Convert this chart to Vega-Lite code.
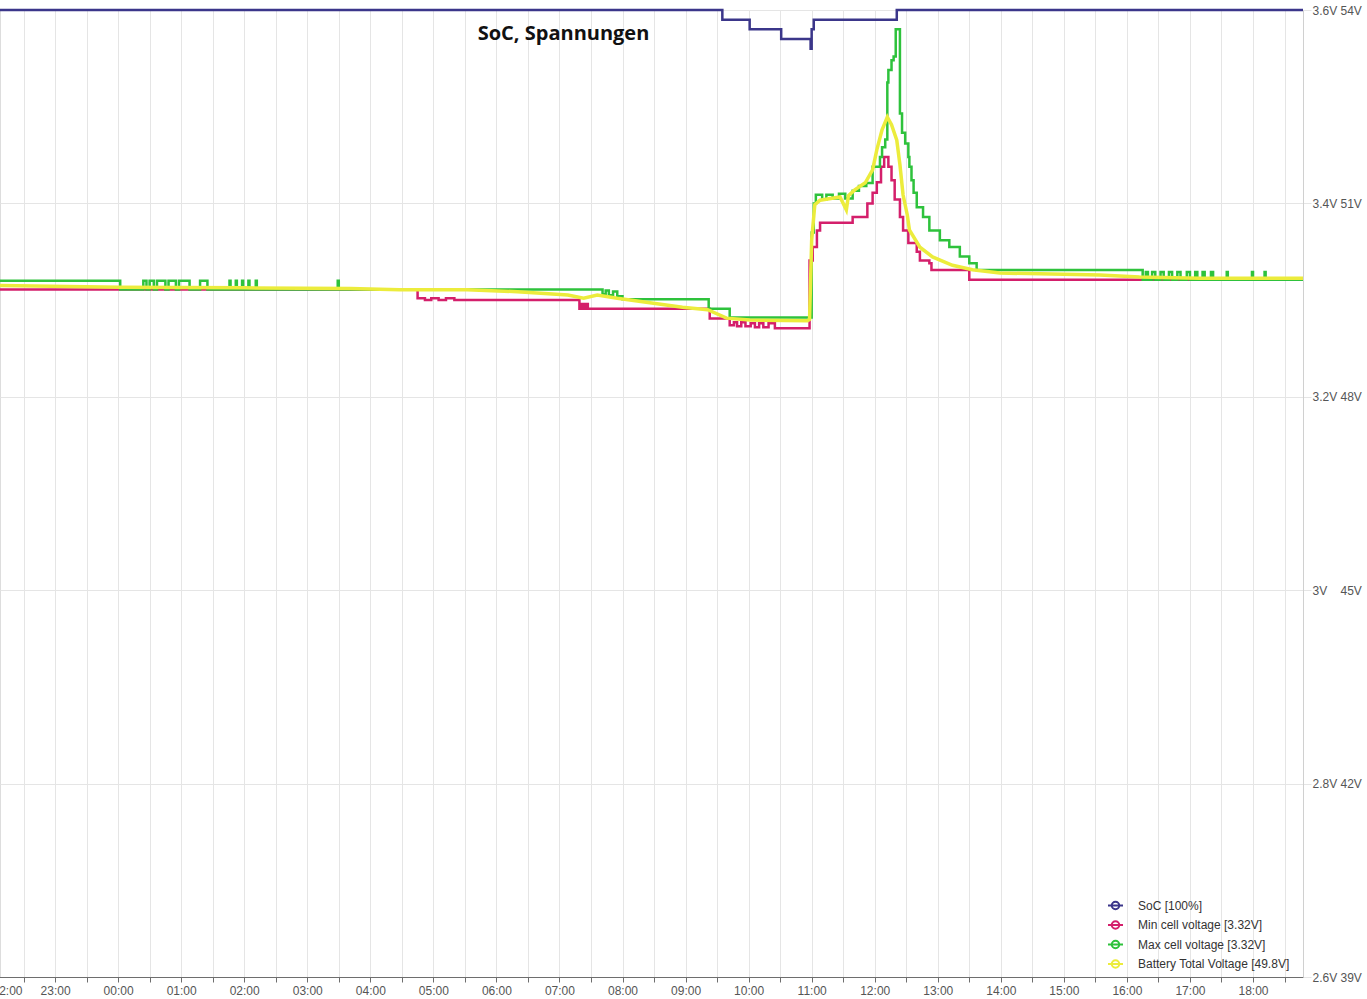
{
  "$schema": "https://vega.github.io/schema/vega-lite/v6.json",
  "width": 1303,
  "height": 967,
  "autosize": {"type": "none"},
  "padding": {"left": 0, "top": 10, "right": 64, "bottom": 22},
  "title": {"text": "SoC, Spannungen", "font": "Open Sans", "fontSize": 20, "fontWeight": "bold", "color": "#111111", "anchor": "middle", "dx": -88, "offset": 0, "baseline": "alphabetic", "dy": 56},
  "datasets": {
    "soc": [
      {"t": "2024-05-10T22:00", "s": "SoC [100%]", "v": 100},
      {"t": "2024-05-11T09:35", "s": "SoC [100%]", "v": 99},
      {"t": "2024-05-11T10:01", "s": "SoC [100%]", "v": 98},
      {"t": "2024-05-11T10:31", "s": "SoC [100%]", "v": 97},
      {"t": "2024-05-11T10:59", "s": "SoC [100%]", "v": 96},
      {"t": "2024-05-11T11:00", "s": "SoC [100%]", "v": 98},
      {"t": "2024-05-11T11:02", "s": "SoC [100%]", "v": 99},
      {"t": "2024-05-11T12:21", "s": "SoC [100%]", "v": 100},
      {"t": "2024-05-11T18:47:34", "s": "SoC [100%]", "v": 100}
    ],
    "cells": [
      {"t": "2024-05-10T22:00", "s": "Min cell voltage [3.32V]", "v": 3.311},
      {"t": "2024-05-11T04:45", "s": "Min cell voltage [3.32V]", "v": 3.302},
      {"t": "2024-05-11T04:52", "s": "Min cell voltage [3.32V]", "v": 3.300},
      {"t": "2024-05-11T04:58", "s": "Min cell voltage [3.32V]", "v": 3.302},
      {"t": "2024-05-11T05:05", "s": "Min cell voltage [3.32V]", "v": 3.300},
      {"t": "2024-05-11T05:12", "s": "Min cell voltage [3.32V]", "v": 3.302},
      {"t": "2024-05-11T05:20", "s": "Min cell voltage [3.32V]", "v": 3.300},
      {"t": "2024-05-11T07:19", "s": "Min cell voltage [3.32V]", "v": 3.291},
      {"t": "2024-05-11T07:21", "s": "Min cell voltage [3.32V]", "v": 3.296},
      {"t": "2024-05-11T07:23", "s": "Min cell voltage [3.32V]", "v": 3.291},
      {"t": "2024-05-11T07:25", "s": "Min cell voltage [3.32V]", "v": 3.296},
      {"t": "2024-05-11T07:27", "s": "Min cell voltage [3.32V]", "v": 3.291},
      {"t": "2024-05-11T09:23", "s": "Min cell voltage [3.32V]", "v": 3.281},
      {"t": "2024-05-11T09:42", "s": "Min cell voltage [3.32V]", "v": 3.274},
      {"t": "2024-05-11T09:46", "s": "Min cell voltage [3.32V]", "v": 3.277},
      {"t": "2024-05-11T09:49", "s": "Min cell voltage [3.32V]", "v": 3.273},
      {"t": "2024-05-11T09:53", "s": "Min cell voltage [3.32V]", "v": 3.277},
      {"t": "2024-05-11T09:57", "s": "Min cell voltage [3.32V]", "v": 3.273},
      {"t": "2024-05-11T10:02", "s": "Min cell voltage [3.32V]", "v": 3.276},
      {"t": "2024-05-11T10:06", "s": "Min cell voltage [3.32V]", "v": 3.272},
      {"t": "2024-05-11T10:10", "s": "Min cell voltage [3.32V]", "v": 3.276},
      {"t": "2024-05-11T10:14", "s": "Min cell voltage [3.32V]", "v": 3.272},
      {"t": "2024-05-11T10:19", "s": "Min cell voltage [3.32V]", "v": 3.276},
      {"t": "2024-05-11T10:25", "s": "Min cell voltage [3.32V]", "v": 3.271},
      {"t": "2024-05-11T10:58", "s": "Min cell voltage [3.32V]", "v": 3.341},
      {"t": "2024-05-11T11:01", "s": "Min cell voltage [3.32V]", "v": 3.355},
      {"t": "2024-05-11T11:05", "s": "Min cell voltage [3.32V]", "v": 3.372},
      {"t": "2024-05-11T11:08", "s": "Min cell voltage [3.32V]", "v": 3.380},
      {"t": "2024-05-11T11:39", "s": "Min cell voltage [3.32V]", "v": 3.386},
      {"t": "2024-05-11T11:53", "s": "Min cell voltage [3.32V]", "v": 3.400},
      {"t": "2024-05-11T11:58", "s": "Min cell voltage [3.32V]", "v": 3.411},
      {"t": "2024-05-11T12:02", "s": "Min cell voltage [3.32V]", "v": 3.422},
      {"t": "2024-05-11T12:06", "s": "Min cell voltage [3.32V]", "v": 3.438},
      {"t": "2024-05-11T12:09", "s": "Min cell voltage [3.32V]", "v": 3.448},
      {"t": "2024-05-11T12:13", "s": "Min cell voltage [3.32V]", "v": 3.438},
      {"t": "2024-05-11T12:16", "s": "Min cell voltage [3.32V]", "v": 3.424},
      {"t": "2024-05-11T12:19", "s": "Min cell voltage [3.32V]", "v": 3.404},
      {"t": "2024-05-11T12:24", "s": "Min cell voltage [3.32V]", "v": 3.386},
      {"t": "2024-05-11T12:27", "s": "Min cell voltage [3.32V]", "v": 3.372},
      {"t": "2024-05-11T12:32", "s": "Min cell voltage [3.32V]", "v": 3.359},
      {"t": "2024-05-11T12:40", "s": "Min cell voltage [3.32V]", "v": 3.350},
      {"t": "2024-05-11T12:43", "s": "Min cell voltage [3.32V]", "v": 3.341},
      {"t": "2024-05-11T12:52", "s": "Min cell voltage [3.32V]", "v": 3.338},
      {"t": "2024-05-11T12:54", "s": "Min cell voltage [3.32V]", "v": 3.331},
      {"t": "2024-05-11T13:30", "s": "Min cell voltage [3.32V]", "v": 3.321},
      {"t": "2024-05-11T18:47:34", "s": "Min cell voltage [3.32V]", "v": 3.321},
      {"t": "2024-05-10T22:00", "s": "Max cell voltage [3.32V]", "v": 3.320},
      {"t": "2024-05-11T00:02", "s": "Max cell voltage [3.32V]", "v": 3.311},
      {"t": "2024-05-11T00:24", "s": "Max cell voltage [3.32V]", "v": 3.320},
      {"t": "2024-05-11T00:27", "s": "Max cell voltage [3.32V]", "v": 3.311},
      {"t": "2024-05-11T00:30", "s": "Max cell voltage [3.32V]", "v": 3.320},
      {"t": "2024-05-11T00:34", "s": "Max cell voltage [3.32V]", "v": 3.311},
      {"t": "2024-05-11T00:37", "s": "Max cell voltage [3.32V]", "v": 3.320},
      {"t": "2024-05-11T00:45", "s": "Max cell voltage [3.32V]", "v": 3.311},
      {"t": "2024-05-11T00:48", "s": "Max cell voltage [3.32V]", "v": 3.320},
      {"t": "2024-05-11T00:55", "s": "Max cell voltage [3.32V]", "v": 3.311},
      {"t": "2024-05-11T00:58", "s": "Max cell voltage [3.32V]", "v": 3.320},
      {"t": "2024-05-11T01:08", "s": "Max cell voltage [3.32V]", "v": 3.311},
      {"t": "2024-05-11T01:18", "s": "Max cell voltage [3.32V]", "v": 3.320},
      {"t": "2024-05-11T01:25", "s": "Max cell voltage [3.32V]", "v": 3.311},
      {"t": "2024-05-11T01:46", "s": "Max cell voltage [3.32V]", "v": 3.320},
      {"t": "2024-05-11T01:47", "s": "Max cell voltage [3.32V]", "v": 3.311},
      {"t": "2024-05-11T01:52", "s": "Max cell voltage [3.32V]", "v": 3.320},
      {"t": "2024-05-11T01:53", "s": "Max cell voltage [3.32V]", "v": 3.311},
      {"t": "2024-05-11T01:58", "s": "Max cell voltage [3.32V]", "v": 3.320},
      {"t": "2024-05-11T01:59", "s": "Max cell voltage [3.32V]", "v": 3.311},
      {"t": "2024-05-11T02:04", "s": "Max cell voltage [3.32V]", "v": 3.320},
      {"t": "2024-05-11T02:05", "s": "Max cell voltage [3.32V]", "v": 3.311},
      {"t": "2024-05-11T02:11", "s": "Max cell voltage [3.32V]", "v": 3.320},
      {"t": "2024-05-11T02:12", "s": "Max cell voltage [3.32V]", "v": 3.311},
      {"t": "2024-05-11T03:29", "s": "Max cell voltage [3.32V]", "v": 3.320},
      {"t": "2024-05-11T03:30", "s": "Max cell voltage [3.32V]", "v": 3.311},
      {"t": "2024-05-11T07:41", "s": "Max cell voltage [3.32V]", "v": 3.306},
      {"t": "2024-05-11T07:44", "s": "Max cell voltage [3.32V]", "v": 3.310},
      {"t": "2024-05-11T07:47", "s": "Max cell voltage [3.32V]", "v": 3.305},
      {"t": "2024-05-11T07:51", "s": "Max cell voltage [3.32V]", "v": 3.309},
      {"t": "2024-05-11T07:55", "s": "Max cell voltage [3.32V]", "v": 3.304},
      {"t": "2024-05-11T08:00", "s": "Max cell voltage [3.32V]", "v": 3.301},
      {"t": "2024-05-11T09:22", "s": "Max cell voltage [3.32V]", "v": 3.291},
      {"t": "2024-05-11T09:42", "s": "Max cell voltage [3.32V]", "v": 3.282},
      {"t": "2024-05-11T10:58", "s": "Max cell voltage [3.32V]", "v": 3.282},
      {"t": "2024-05-11T11:00", "s": "Max cell voltage [3.32V]", "v": 3.370},
      {"t": "2024-05-11T11:02", "s": "Max cell voltage [3.32V]", "v": 3.400},
      {"t": "2024-05-11T11:04", "s": "Max cell voltage [3.32V]", "v": 3.409},
      {"t": "2024-05-11T11:10", "s": "Max cell voltage [3.32V]", "v": 3.404},
      {"t": "2024-05-11T11:14", "s": "Max cell voltage [3.32V]", "v": 3.409},
      {"t": "2024-05-11T11:20", "s": "Max cell voltage [3.32V]", "v": 3.405},
      {"t": "2024-05-11T11:26", "s": "Max cell voltage [3.32V]", "v": 3.410},
      {"t": "2024-05-11T11:32", "s": "Max cell voltage [3.32V]", "v": 3.405},
      {"t": "2024-05-11T11:39", "s": "Max cell voltage [3.32V]", "v": 3.413},
      {"t": "2024-05-11T11:45", "s": "Max cell voltage [3.32V]", "v": 3.418},
      {"t": "2024-05-11T11:52", "s": "Max cell voltage [3.32V]", "v": 3.421},
      {"t": "2024-05-11T11:58", "s": "Max cell voltage [3.32V]", "v": 3.438},
      {"t": "2024-05-11T12:05", "s": "Max cell voltage [3.32V]", "v": 3.448},
      {"t": "2024-05-11T12:07", "s": "Max cell voltage [3.32V]", "v": 3.458},
      {"t": "2024-05-11T12:10", "s": "Max cell voltage [3.32V]", "v": 3.466},
      {"t": "2024-05-11T12:12", "s": "Max cell voltage [3.32V]", "v": 3.525},
      {"t": "2024-05-11T12:13", "s": "Max cell voltage [3.32V]", "v": 3.538},
      {"t": "2024-05-11T12:16", "s": "Max cell voltage [3.32V]", "v": 3.548},
      {"t": "2024-05-11T12:18", "s": "Max cell voltage [3.32V]", "v": 3.552},
      {"t": "2024-05-11T12:20", "s": "Max cell voltage [3.32V]", "v": 3.580},
      {"t": "2024-05-11T12:24", "s": "Max cell voltage [3.32V]", "v": 3.493},
      {"t": "2024-05-11T12:26", "s": "Max cell voltage [3.32V]", "v": 3.473},
      {"t": "2024-05-11T12:29", "s": "Max cell voltage [3.32V]", "v": 3.462},
      {"t": "2024-05-11T12:32", "s": "Max cell voltage [3.32V]", "v": 3.448},
      {"t": "2024-05-11T12:33", "s": "Max cell voltage [3.32V]", "v": 3.438},
      {"t": "2024-05-11T12:35", "s": "Max cell voltage [3.32V]", "v": 3.424},
      {"t": "2024-05-11T12:37", "s": "Max cell voltage [3.32V]", "v": 3.411},
      {"t": "2024-05-11T12:40", "s": "Max cell voltage [3.32V]", "v": 3.396},
      {"t": "2024-05-11T12:46", "s": "Max cell voltage [3.32V]", "v": 3.386},
      {"t": "2024-05-11T12:52", "s": "Max cell voltage [3.32V]", "v": 3.372},
      {"t": "2024-05-11T13:02", "s": "Max cell voltage [3.32V]", "v": 3.362},
      {"t": "2024-05-11T13:11", "s": "Max cell voltage [3.32V]", "v": 3.355},
      {"t": "2024-05-11T13:21", "s": "Max cell voltage [3.32V]", "v": 3.345},
      {"t": "2024-05-11T13:30", "s": "Max cell voltage [3.32V]", "v": 3.338},
      {"t": "2024-05-11T13:37", "s": "Max cell voltage [3.32V]", "v": 3.331},
      {"t": "2024-05-11T16:15", "s": "Max cell voltage [3.32V]", "v": 3.321},
      {"t": "2024-05-11T16:18", "s": "Max cell voltage [3.32V]", "v": 3.329},
      {"t": "2024-05-11T16:20", "s": "Max cell voltage [3.32V]", "v": 3.321},
      {"t": "2024-05-11T16:24", "s": "Max cell voltage [3.32V]", "v": 3.329},
      {"t": "2024-05-11T16:27", "s": "Max cell voltage [3.32V]", "v": 3.321},
      {"t": "2024-05-11T16:32", "s": "Max cell voltage [3.32V]", "v": 3.329},
      {"t": "2024-05-11T16:35", "s": "Max cell voltage [3.32V]", "v": 3.321},
      {"t": "2024-05-11T16:40", "s": "Max cell voltage [3.32V]", "v": 3.329},
      {"t": "2024-05-11T16:43", "s": "Max cell voltage [3.32V]", "v": 3.321},
      {"t": "2024-05-11T16:48", "s": "Max cell voltage [3.32V]", "v": 3.329},
      {"t": "2024-05-11T16:51", "s": "Max cell voltage [3.32V]", "v": 3.321},
      {"t": "2024-05-11T16:57", "s": "Max cell voltage [3.32V]", "v": 3.329},
      {"t": "2024-05-11T17:00", "s": "Max cell voltage [3.32V]", "v": 3.321},
      {"t": "2024-05-11T17:05", "s": "Max cell voltage [3.32V]", "v": 3.329},
      {"t": "2024-05-11T17:07", "s": "Max cell voltage [3.32V]", "v": 3.321},
      {"t": "2024-05-11T17:12", "s": "Max cell voltage [3.32V]", "v": 3.329},
      {"t": "2024-05-11T17:14", "s": "Max cell voltage [3.32V]", "v": 3.321},
      {"t": "2024-05-11T17:20", "s": "Max cell voltage [3.32V]", "v": 3.329},
      {"t": "2024-05-11T17:22", "s": "Max cell voltage [3.32V]", "v": 3.321},
      {"t": "2024-05-11T17:35", "s": "Max cell voltage [3.32V]", "v": 3.329},
      {"t": "2024-05-11T17:36", "s": "Max cell voltage [3.32V]", "v": 3.321},
      {"t": "2024-05-11T17:59", "s": "Max cell voltage [3.32V]", "v": 3.329},
      {"t": "2024-05-11T18:00", "s": "Max cell voltage [3.32V]", "v": 3.321},
      {"t": "2024-05-11T18:11", "s": "Max cell voltage [3.32V]", "v": 3.329},
      {"t": "2024-05-11T18:12", "s": "Max cell voltage [3.32V]", "v": 3.321},
      {"t": "2024-05-11T18:47:34", "s": "Max cell voltage [3.32V]", "v": 3.321}
    ],
    "total": [
      {"t": "2024-05-10T22:00", "s": "Battery Total Voltage [49.8V]", "v": 49.73},
      {"t": "2024-05-11T00:02", "s": "Battery Total Voltage [49.8V]", "v": 49.70},
      {"t": "2024-05-11T02:00", "s": "Battery Total Voltage [49.8V]", "v": 49.69},
      {"t": "2024-05-11T03:41", "s": "Battery Total Voltage [49.8V]", "v": 49.68},
      {"t": "2024-05-11T04:28", "s": "Battery Total Voltage [49.8V]", "v": 49.66},
      {"t": "2024-05-11T05:32", "s": "Battery Total Voltage [49.8V]", "v": 49.66},
      {"t": "2024-05-11T06:20", "s": "Battery Total Voltage [49.8V]", "v": 49.63},
      {"t": "2024-05-11T07:08", "s": "Battery Total Voltage [49.8V]", "v": 49.58},
      {"t": "2024-05-11T07:23", "s": "Battery Total Voltage [49.8V]", "v": 49.53},
      {"t": "2024-05-11T07:36", "s": "Battery Total Voltage [49.8V]", "v": 49.58},
      {"t": "2024-05-11T07:55", "s": "Battery Total Voltage [49.8V]", "v": 49.53},
      {"t": "2024-05-11T08:26", "s": "Battery Total Voltage [49.8V]", "v": 49.46},
      {"t": "2024-05-11T08:57", "s": "Battery Total Voltage [49.8V]", "v": 49.39},
      {"t": "2024-05-11T09:21", "s": "Battery Total Voltage [49.8V]", "v": 49.35},
      {"t": "2024-05-11T09:39", "s": "Battery Total Voltage [49.8V]", "v": 49.22},
      {"t": "2024-05-11T10:01", "s": "Battery Total Voltage [49.8V]", "v": 49.19},
      {"t": "2024-05-11T10:56", "s": "Battery Total Voltage [49.8V]", "v": 49.18},
      {"t": "2024-05-11T10:58", "s": "Battery Total Voltage [49.8V]", "v": 49.20},
      {"t": "2024-05-11T11:00", "s": "Battery Total Voltage [49.8V]", "v": 50.43},
      {"t": "2024-05-11T11:03", "s": "Battery Total Voltage [49.8V]", "v": 50.98},
      {"t": "2024-05-11T11:08", "s": "Battery Total Voltage [49.8V]", "v": 51.05},
      {"t": "2024-05-11T11:27", "s": "Battery Total Voltage [49.8V]", "v": 51.10},
      {"t": "2024-05-11T11:33", "s": "Battery Total Voltage [49.8V]", "v": 50.90},
      {"t": "2024-05-11T11:35", "s": "Battery Total Voltage [49.8V]", "v": 51.12},
      {"t": "2024-05-11T11:41", "s": "Battery Total Voltage [49.8V]", "v": 51.21},
      {"t": "2024-05-11T11:51", "s": "Battery Total Voltage [49.8V]", "v": 51.32},
      {"t": "2024-05-11T11:58", "s": "Battery Total Voltage [49.8V]", "v": 51.52},
      {"t": "2024-05-11T12:02", "s": "Battery Total Voltage [49.8V]", "v": 51.83},
      {"t": "2024-05-11T12:07", "s": "Battery Total Voltage [49.8V]", "v": 52.14},
      {"t": "2024-05-11T12:12", "s": "Battery Total Voltage [49.8V]", "v": 52.34},
      {"t": "2024-05-11T12:16", "s": "Battery Total Voltage [49.8V]", "v": 52.22},
      {"t": "2024-05-11T12:21", "s": "Battery Total Voltage [49.8V]", "v": 51.98},
      {"t": "2024-05-11T12:24", "s": "Battery Total Voltage [49.8V]", "v": 51.60},
      {"t": "2024-05-11T12:27", "s": "Battery Total Voltage [49.8V]", "v": 51.13},
      {"t": "2024-05-11T12:31", "s": "Battery Total Voltage [49.8V]", "v": 50.82},
      {"t": "2024-05-11T12:33", "s": "Battery Total Voltage [49.8V]", "v": 50.59},
      {"t": "2024-05-11T12:43", "s": "Battery Total Voltage [49.8V]", "v": 50.32},
      {"t": "2024-05-11T12:55", "s": "Battery Total Voltage [49.8V]", "v": 50.17},
      {"t": "2024-05-11T13:14", "s": "Battery Total Voltage [49.8V]", "v": 50.04},
      {"t": "2024-05-11T13:33", "s": "Battery Total Voltage [49.8V]", "v": 49.97},
      {"t": "2024-05-11T13:59", "s": "Battery Total Voltage [49.8V]", "v": 49.92},
      {"t": "2024-05-11T15:34", "s": "Battery Total Voltage [49.8V]", "v": 49.89},
      {"t": "2024-05-11T16:12", "s": "Battery Total Voltage [49.8V]", "v": 49.86},
      {"t": "2024-05-11T17:09", "s": "Battery Total Voltage [49.8V]", "v": 49.84},
      {"t": "2024-05-11T18:47:34", "s": "Battery Total Voltage [49.8V]", "v": 49.84}
    ]
  },
  "layer": [
    {
      "data": {"name": "soc"},
      "mark": {"type": "line", "interpolate": "step-after", "strokeWidth": 2.5},
      "encoding": {
        "x": {"field": "t", "type": "temporal", "scale": {"range": [-8, 1303]}, "axis": {"title": null, "format": "%H:%M", "grid": true, "gridColor": "#e5e5e5", "domainColor": "#6e6e6e", "tickColor": "#6e6e6e", "tickSize": 5, "labelColor": "#555555", "labelFontSize": 12, "labelPadding": 3}},
        "y": {"field": "v", "type": "quantitative", "scale": {"domain": [0, 100]}, "axis": null},
        "color": {
          "field": "s",
          "type": "nominal",
          "scale": {"domain": ["SoC [100%]", "Min cell voltage [3.32V]", "Max cell voltage [3.32V]", "Battery Total Voltage [49.8V]"], "range": ["#3b368a", "#d41f6b", "#2ec23c", "#ecec3c"]},
          "legend": {"orient": "none", "legendX": 1107, "legendY": 887, "title": null, "symbolType": "M-1,0H1M-0.5,0A0.5,0.5 0 1,1 0.5,0A0.5,0.5 0 1,1 -0.5,0Z", "symbolSize": 225, "symbolStrokeWidth": 2, "labelFontSize": 12, "labelColor": "#333333", "labelOffset": 14, "rowPadding": 2.5, "padding": 0}
        }
      }
    },
    {
      "data": {"name": "cells"},
      "mark": {"type": "line", "interpolate": "step-after", "strokeWidth": 2.5},
      "encoding": {
        "x": {"field": "t", "type": "temporal"},
        "y": {"field": "v", "type": "quantitative", "scale": {"domain": [2.6, 3.6], "zero": false}, "axis": {"orient": "right", "title": null, "values": [2.6, 2.8, 3.0, 3.2, 3.4, 3.6], "format": "~g", "labelExpr": "datum.label + 'V'", "grid": true, "gridColor": "#e5e5e5", "domainColor": "#d0d0d0", "ticks": false, "labelPadding": 9, "labelColor": "#555555", "labelFontSize": 12}},
        "color": {"field": "s", "type": "nominal"}
      }
    },
    {
      "data": {"name": "total"},
      "mark": {"type": "line", "strokeWidth": 3.5},
      "encoding": {
        "x": {"field": "t", "type": "temporal"},
        "y": {"field": "v", "type": "quantitative", "scale": {"domain": [39, 54], "zero": false}, "axis": {"orient": "right", "title": null, "values": [39, 42, 45, 48, 51, 54], "format": "~g", "labelExpr": "datum.label + 'V'", "grid": false, "domain": false, "ticks": false, "labelPadding": 37, "labelColor": "#555555", "labelFontSize": 12}},
        "color": {"field": "s", "type": "nominal"}
      }
    }
  ],
  "resolve": {"scale": {"y": "independent"}}
}
